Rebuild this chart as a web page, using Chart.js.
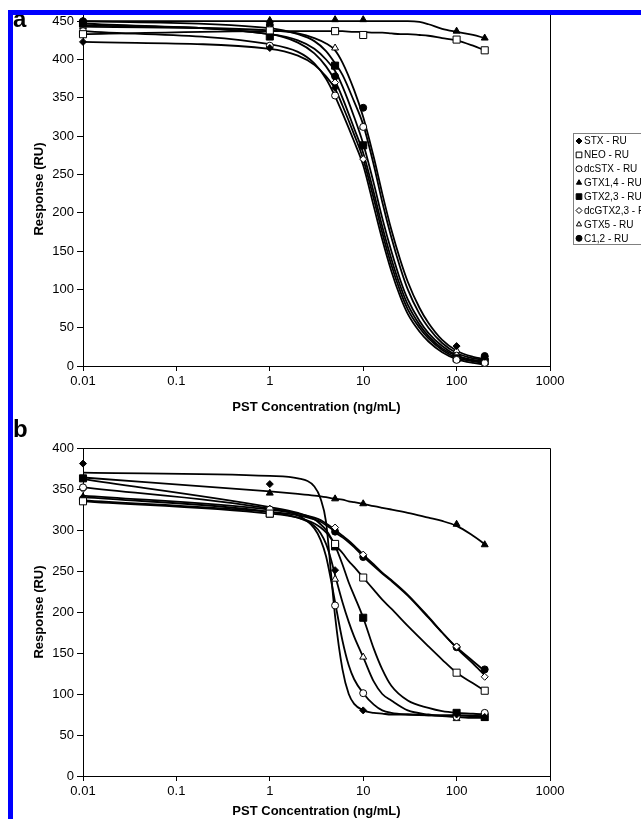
<!DOCTYPE html>
<html>
<head>
<meta charset="utf-8">
<script src="https://cdn.jsdelivr.net/npm/chart.js@4.4.1/dist/chart.umd.min.js"></script>
<style>
  html, body { margin: 0; padding: 0; background: #fff; overflow: hidden; width: 641px; height: 819px; }
  #chartA { position: absolute; left: 0; top: 0; }
  #chartB { position: absolute; left: 0; top: 410px; }
  .bar { position: absolute; background: #0000ff; z-index: 5; }
</style>
</head>
<body>
<canvas id="chartA" width="660" height="415"></canvas>
<canvas id="chartB" width="660" height="409"></canvas>
<div class="bar" style="left:8px;top:10px;width:633px;height:5px;"></div>
<div class="bar" style="left:8px;top:10px;width:5px;height:809px;"></div>
<script>
// axis ticks
const xTicks = [0.01, 0.1, 1, 10, 100, 1000];
const xTickLabels = ['0.01', '0.1', '1', '10', '100', '1000'];
const yTicksA = [0, 50, 100, 150, 200, 250, 300, 350, 400, 450];
const yTicksB = [0, 50, 100, 150, 200, 250, 300, 350, 400];

// series
const seriesNames = ['STX - RU', 'NEO - RU', 'dcSTX - RU', 'GTX1,4 - RU', 'GTX2,3 - RU', 'dcGTX2,3 - RU', 'GTX5 - RU', 'C1,2 - RU'];

// panel a: measured points
const concA = [0.01, 1, 5, 10, 100, 200];
const stxA = [423, 415, 363, 288, 26, 12];
const neoA = [433, 438, 437, 432, 426, 412];
const dcstxA = [437, 418, 353, 312, 8, 4];
const gtx14A = [450, 451, 452, 452, 437, 428];
const gtx23A = [447, 430, 392, 288, 10, 6];
const dcgtx23A = [445, 434, 370, 270, 14, 8];
const gtx5A = [443, 440, 415, 312, 20, 10];
const c12A = [450, 445, 378, 337, 12, 13];

// panel a: fitted curves
const fitConcA = [0.01, 1, 2, 3, 4, 5, 6, 8, 10, 13, 16, 20, 25, 30, 40, 50, 70, 100, 150, 200];
const stxFitA = [423, 414, 405, 393, 378, 362, 340, 302, 270, 218, 174, 132, 97, 74, 50, 36, 21, 11, 6, 4];
const neoFitA = [433, 437, 437, 437, 437, 437, 437, 436, 436, 435, 435, 434, 433, 433, 432, 431, 428, 425, 418, 412];
const dcstxFitA = [437, 420, 410, 395, 375, 352, 330, 293, 262, 208, 165, 124, 90, 68, 45, 32, 18, 9, 4, 2];
const gtx14FitA = [450, 450, 450, 450, 450, 450, 450, 450, 450, 450, 450, 450, 450, 450, 449, 446, 440, 436, 432, 428];
const gtx23FitA = [447, 433, 425, 414, 400, 385, 365, 325, 290, 238, 193, 150, 112, 87, 59, 43, 26, 14, 8, 6];
const dcgtx23FitA = [445, 433, 422, 408, 391, 372, 350, 310, 278, 226, 182, 140, 104, 80, 54, 39, 23, 13, 7, 5];
const gtx5FitA = [443, 438, 434, 428, 421, 412, 396, 360, 325, 272, 225, 178, 138, 110, 76, 56, 34, 20, 12, 9];
const c12FitA = [450, 441, 433, 424, 411, 395, 380, 345, 315, 262, 214, 168, 128, 100, 68, 50, 30, 17, 10, 8];

// panel b: measured points
const concB = [0.01, 1, 5, 10, 100, 200];
const stxB = [381, 356, 251, 80, 75, 72];
const neoB = [335, 320, 283, 242, 126, 104];
const dcstxB = [352, 325, 208, 101, 72, 77];
const gtx14B = [340, 345, 338, 332, 307, 282];
const gtx23B = [363, 320, 280, 193, 77, 72];
const dcgtx23B = [350, 326, 303, 270, 158, 121];
const gtx5B = [340, 322, 240, 145, 70, 70];
const c12B = [338, 322, 298, 267, 157, 130];

// panel b: fitted curves
const fitConcB = [0.01, 1, 2, 3, 3.5, 4, 4.5, 5, 6, 7, 8, 10, 13, 16, 20, 30, 50, 70, 100, 150, 200];
const stxFitB = [370, 366, 363, 353, 338, 310, 250, 195, 130, 100, 88, 80, 77, 76, 75, 75, 74, 74, 74, 73, 73];
const neoFitB = [335, 320, 315, 308, 303, 297, 290, 282, 272, 262, 255, 242, 227, 215, 204, 183, 158, 142, 126, 113, 104];
const dcstxFitB = [352, 326, 318, 302, 288, 268, 240, 212, 165, 135, 118, 101, 87, 80, 77, 75, 74, 74, 74, 74, 75];
const gtx14FitB = [364, 347, 344, 342, 341, 340, 339, 338, 337, 335, 334, 332, 329, 327, 325, 321, 315, 311, 305, 293, 283];
const gtx23FitB = [362, 328, 321, 313, 307, 300, 291, 281, 258, 236, 220, 193, 155, 130, 110, 92, 83, 79, 77, 76, 75];
const dcgtx23FitB = [342, 325, 320, 315, 312, 308, 304, 300, 293, 287, 281, 270, 258, 248, 239, 221, 194, 175, 156, 137, 123];
const gtx5FitB = [340, 322, 315, 305, 296, 283, 265, 245, 212, 188, 170, 145, 115, 100, 92, 80, 75, 73, 72, 71, 71];
const c12FitB = [336, 322, 318, 313, 310, 306, 302, 297, 291, 285, 279, 268, 256, 247, 238, 220, 193, 175, 157, 140, 128];

// marker look per series
const markerShapes = ['rectRot', 'rect', 'circle', 'triangle', 'rect', 'rectRot', 'triangle', 'circle'];
const markerFilled = [true, false, false, true, true, false, false, true];
const markerRadius = [3.5, 5, 3.5, 4, 5, 3.5, 4, 3.5];

const FONT = '"Liberation Sans", Arial, Helvetica, sans-serif';
Chart.defaults.font.family = FONT;
Chart.defaults.color = '#000';

function toXY(xs, ys) {
    return xs.map((x, i) => ({ x: x, y: ys[i] }));
}

function buildDatasets(conc, points, fitConc, fits) {
    const markers = points.map((vals, i) => ({
        label: seriesNames[i],
        data: toXY(conc, vals),
        showLine: false,
        pointStyle: markerShapes[i],
        pointRadius: markerRadius[i],
        pointBackgroundColor: markerFilled[i] ? '#000' : '#fff',
        pointBorderColor: '#000',
        pointBorderWidth: 1,
        clip: false
    }));
    const lines = fits.map((vals, i) => ({
        label: seriesNames[i] + ' fit',
        data: toXY(fitConc, vals),
        showLine: true,
        borderColor: '#000',
        borderWidth: 1.8,
        pointRadius: 0,
        fill: false,
        cubicInterpolationMode: 'monotone',
        clip: false
    }));
    return markers.concat(lines);
}

// top and right edge of the plot area, plus the panel letter
const framePlugin = {
    id: 'frame',
    beforeDatasetsDraw(chart) {
        const a = chart.chartArea;
        const ctx = chart.ctx;
        ctx.save();
        ctx.strokeStyle = '#000';
        ctx.lineWidth = 1;
        ctx.beginPath();
        ctx.moveTo(a.left, Math.round(a.top) + 0.5);
        ctx.lineTo(Math.round(a.right) + 0.5, Math.round(a.top) + 0.5);
        ctx.lineTo(Math.round(a.right) + 0.5, a.bottom);
        ctx.stroke();
        ctx.restore();
    },
    afterDraw(chart) {
        const opt = chart.options.plugins.frame || {};
        if (!opt.letter) return;
        const ctx = chart.ctx;
        ctx.save();
        ctx.fillStyle = '#000';
        ctx.font = 'bold 24px ' + FONT;
        ctx.textBaseline = 'alphabetic';
        ctx.fillText(opt.letter, opt.lx, opt.ly);
        ctx.restore();
    }
};

// boxed legend to the right of panel a
const boxLegend = {
    id: 'boxLegend',
    afterDraw(chart) {
        const opt = chart.options.plugins.boxLegend || {};
        if (!opt.show) return;
        const ctx = chart.ctx;
        ctx.save();
        ctx.strokeStyle = '#808080';
        ctx.lineWidth = 1;
        ctx.fillStyle = '#fff';
        ctx.fillRect(573.5, 133.5, 100, 111);
        ctx.strokeRect(573.5, 133.5, 100, 111);
        ctx.font = '10px ' + FONT;
        ctx.textBaseline = 'middle';
        seriesNames.forEach((name, i) => {
            const y = 141 + i * 13.9;
            ctx.fillStyle = markerFilled[i] ? '#000' : '#fff';
            ctx.strokeStyle = '#000';
            Chart.helpers.drawPoint(ctx, {
                pointStyle: markerShapes[i],
                radius: markerShapes[i] === 'rect' ? 4 : 3,
                rotation: 0,
                borderWidth: 1
            }, 579, y);
            ctx.fillStyle = '#000';
            ctx.fillText(name, 584, y + 0.5);
        });
        ctx.restore();
    }
};

function makeChart(id, datasets, yMax, yTicks, xAxisHeight, layoutPad, extra) {
    return new Chart(document.getElementById(id), {
        type: 'scatter',
        data: { datasets: datasets },
        plugins: [framePlugin, boxLegend],
        options: {
            responsive: false,
            animation: false,
            events: [],
            layout: { padding: layoutPad },
            plugins: {
                legend: { display: false },
                tooltip: { enabled: false },
                frame: extra.frame,
                boxLegend: extra.legend
            },
            scales: {
                x: {
                    type: 'logarithmic',
                    position: 'bottom',
                    min: 0.01,
                    max: 1000,
                    afterBuildTicks: (s) => { s.ticks = xTicks.map(v => ({ value: v })); },
                    afterFit: (s) => { s.height = xAxisHeight; },
                    ticks: {
                        autoSkip: false,
                        maxRotation: 0,
                        padding: 3,
                        font: { size: 13 },
                        callback: (v, i) => xTickLabels[i]
                    },
                    grid: { drawOnChartArea: false, drawTicks: true, tickLength: 5, color: '#000' },
                    border: { display: true, color: '#000', width: 1 },
                    title: {
                        display: true,
                        text: 'PST Concentration (ng/mL)',
                        font: { size: 13, weight: 'bold' },
                        padding: { top: 0, bottom: extra.xTitlePad }
                    }
                },
                y: {
                    type: 'linear',
                    min: 0,
                    max: yMax,
                    afterBuildTicks: (s) => { s.ticks = yTicks.map(v => ({ value: v })); },
                    afterFit: (s) => { s.width = 83; },
                    ticks: { padding: 3, font: { size: 13 } },
                    grid: { drawOnChartArea: false, drawTicks: true, tickLength: 6, color: '#000' },
                    border: { display: true, color: '#000', width: 1 },
                    title: {
                        display: true,
                        text: 'Response (RU)',
                        font: { size: 13, weight: 'bold' },
                        padding: { top: 32, bottom: 0 }
                    }
                }
            }
        }
    });
}

const dsA = buildDatasets(concA,
    [stxA, neoA, dcstxA, gtx14A, gtx23A, dcgtx23A, gtx5A, c12A],
    fitConcA,
    [stxFitA, neoFitA, dcstxFitA, gtx14FitA, gtx23FitA, dcgtx23FitA, gtx5FitA, c12FitA]);

const dsB = buildDatasets(concB,
    [stxB, neoB, dcstxB, gtx14B, gtx23B, dcgtx23B, gtx5B, c12B],
    fitConcB,
    [stxFitB, neoFitB, dcstxFitB, gtx14FitB, gtx23FitB, dcgtx23FitB, gtx5FitB, c12FitB]);

// panel a: canvas 0..415, plot 12..366
makeChart('chartA', dsA, 462, yTicksA, 49, { left: 0, right: 110, top: 12, bottom: 0 }, {
    frame: { letter: 'a', lx: 13, ly: 27 },
    legend: { show: true },
    xTitlePad: 0
});

// panel b: canvas 410..819, plot 448..776
makeChart('chartB', dsB, 400, yTicksB, 43, { left: 0, right: 110, top: 38, bottom: 0 }, {
    frame: { letter: 'b', lx: 13, ly: 27 },
    legend: { show: false },
    xTitlePad: 0
});
</script>
</body>
</html>
